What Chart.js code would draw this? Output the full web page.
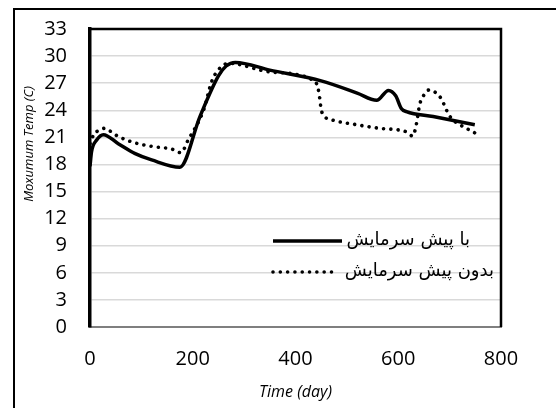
<!DOCTYPE html>
<html>
<head>
<meta charset="utf-8">
<script src="https://cdn.jsdelivr.net/npm/chart.js@4/dist/chart.umd.min.js"></script>
<style>
  html, body { margin: 0; padding: 0; background: #ffffff; }
  #wrap { width: 556px; height: 408px; position: relative; }
</style>
</head>
<body>
<div id="wrap"><canvas id="chart" width="556" height="408"></canvas></div>
<script>
// Series: maximum temperature over time, with and without pre-cooling
const withLabel = 'با پیش سرمایش';
const withDays = [0, 3, 13, 26, 55, 88, 120, 175, 214, 250, 265, 283, 350, 450, 520, 558, 581, 595, 606, 616, 668, 749];
const withTemp = [17.8, 19.4, 20.7, 21.3, 20.3, 19.2, 18.5, 17.7, 23.3, 27.8, 28.9, 29.3, 28.45, 27.25, 25.9, 25.1, 26.2, 25.6, 24.2, 23.85, 23.3, 22.4];

const withoutLabel = 'بدون پیش سرمایش';
const withoutDays = [0, 8, 15, 28, 39, 52, 81, 120, 159, 177, 191, 221, 237, 250, 270, 350, 438, 444, 447, 450, 457, 473, 519, 564, 603, 616, 628, 634, 642, 649, 660, 673, 684, 691, 698, 707, 720, 736, 749];
const withoutTemp = [20.3, 21.4, 21.7, 22.0, 21.7, 21.2, 20.5, 20.0, 19.7, 19.3, 20.7, 24.0, 27.2, 28.5, 29.2, 28.25, 27.2, 26.4, 25.4, 24.1, 23.3, 22.9, 22.4, 22.0, 21.8, 21.6, 21.15, 22.1, 24.7, 25.6, 26.25, 25.95, 25.25, 24.4, 23.55, 22.9, 22.4, 21.9, 21.5];

// Axis ranges and titles
const xTicks = [0, 200, 400, 600, 800];
const yTicks = [0, 3, 6, 9, 12, 15, 18, 21, 24, 27, 30, 33];
const xTitle = 'Time (day)';
const yTitle = 'Moxumum Temp (C)';

const toPoints = (xs, ys) => xs.map((x, i) => ({ x: x, y: ys[i] }));

const tickFont = { family: 'Open Sans', size: 20 };

// White page with an outer frame
const framePlugin = {
  id: 'frame',
  beforeDraw(chart) {
    const ctx = chart.ctx;
    ctx.save();
    ctx.fillStyle = '#ffffff';
    ctx.fillRect(0, 0, chart.width, chart.height);
    ctx.strokeStyle = '#000000';
    ctx.lineWidth = 2;
    ctx.strokeRect(14, 9, chart.width + 10, chart.height + 10);
    ctx.restore();
  },
  afterDraw(chart) {
    // top and right edges of the plot box
    const a = chart.chartArea;
    const ctx = chart.ctx;
    ctx.save();
    ctx.strokeStyle = '#000000';
    ctx.lineWidth = 2.5;
    ctx.beginPath();
    ctx.moveTo(a.left, a.top);
    ctx.lineTo(a.right, a.top);
    ctx.lineTo(a.right, a.bottom);
    ctx.stroke();
    ctx.restore();
  }
};

// Rotated y-axis title
const yTitlePlugin = {
  id: 'yTitleText',
  afterDraw(chart, args, opts) {
    const ctx = chart.ctx;
    ctx.save();
    ctx.translate(opts.x, opts.y);
    ctx.rotate(-Math.PI / 2);
    ctx.font = 'italic 13px "Open Sans"';
    ctx.fillStyle = '#000000';
    ctx.textAlign = 'center';
    ctx.textBaseline = 'middle';
    ctx.fillText(opts.text, 0, 0);
    ctx.restore();
  }
};

// Legend drawn inside the plot: line sample followed by the label
const innerLegendPlugin = {
  id: 'innerLegend',
  afterDatasetsDraw(chart, args, opts) {
    const ctx = chart.ctx;
    ctx.save();
    chart.data.datasets.forEach((ds, i) => {
      const y = opts.rows[i];
      ctx.strokeStyle = ds.borderColor;
      ctx.lineWidth = ds.borderWidth;
      ctx.lineCap = ds.borderCapStyle || 'butt';
      ctx.setLineDash(ds.borderDash || []);
      ctx.beginPath();
      ctx.moveTo(opts.lineStart, y);
      ctx.lineTo(opts.lineEnd[i], y);
      ctx.stroke();
      ctx.setLineDash([]);
      ctx.font = '18px "DejaVu Sans"';
      ctx.fillStyle = '#000000';
      ctx.textBaseline = 'middle';
      ctx.direction = 'rtl';
      ctx.textAlign = 'right';
      ctx.fillText(ds.label, opts.textRight[i], y - 1);
    });
    ctx.restore();
  }
};

new Chart(document.getElementById('chart'), {
  type: 'line',
  data: {
    datasets: [
      {
        label: withLabel,
        data: toPoints(withDays, withTemp),
        borderColor: '#000000',
        borderWidth: 3.5,
        pointRadius: 0,
        cubicInterpolationMode: 'monotone',
        fill: false
      },
      {
        label: withoutLabel,
        data: toPoints(withoutDays, withoutTemp),
        borderColor: '#000000',
        borderWidth: 3.6,
        borderDash: [0.01, 7.3],
        borderCapStyle: 'round',
        pointRadius: 0,
        cubicInterpolationMode: 'monotone',
        fill: false
      }
    ]
  },
  options: {
    responsive: false,
    animation: false,
    devicePixelRatio: 1,
    layout: { padding: { top: 29, right: 55, left: 0, bottom: 0 } },
    plugins: {
      legend: { display: false },
      tooltip: { enabled: false },
      yTitleText: { text: yTitle, x: 29, y: 144 },
      innerLegend: { rows: [241, 272], lineStart: 273, lineEnd: [342, 338], textRight: [470, 494] }
    },
    scales: {
      x: {
        type: 'linear',
        min: xTicks[0],
        max: xTicks[xTicks.length - 1],
        afterBuildTicks: (s) => { s.ticks = xTicks.map(v => ({ value: v })); },
        afterFit: (s) => { s.height = 81; s.paddingLeft = 0; s.paddingRight = 0; },
        grid: { display: false, drawTicks: false },
        border: { display: true, color: '#7f7f7f', width: 2 },
        ticks: { font: tickFont, color: '#000000', padding: 20, maxRotation: 0, autoSkip: false },
        title: {
          display: true,
          text: xTitle,
          color: '#000000',
          font: { family: 'Open Sans', size: 16, style: 'italic' },
          padding: { top: 0, bottom: 6 }
        }
      },
      y: {
        type: 'linear',
        min: yTicks[0],
        max: yTicks[yTicks.length - 1],
        afterBuildTicks: (s) => { s.ticks = yTicks.map(v => ({ value: v })); },
        afterFit: (s) => { s.width = 90; s.paddingTop = 0; s.paddingBottom = 0; },
        grid: { color: '#d9d9d9', lineWidth: 1.5, drawTicks: false },
        border: { display: true, color: '#000000', width: 3.5 },
        ticks: { font: tickFont, color: '#000000', padding: 23, autoSkip: false }
      }
    }
  },
  plugins: [framePlugin, yTitlePlugin, innerLegendPlugin]
});
</script>
</body>
</html>
